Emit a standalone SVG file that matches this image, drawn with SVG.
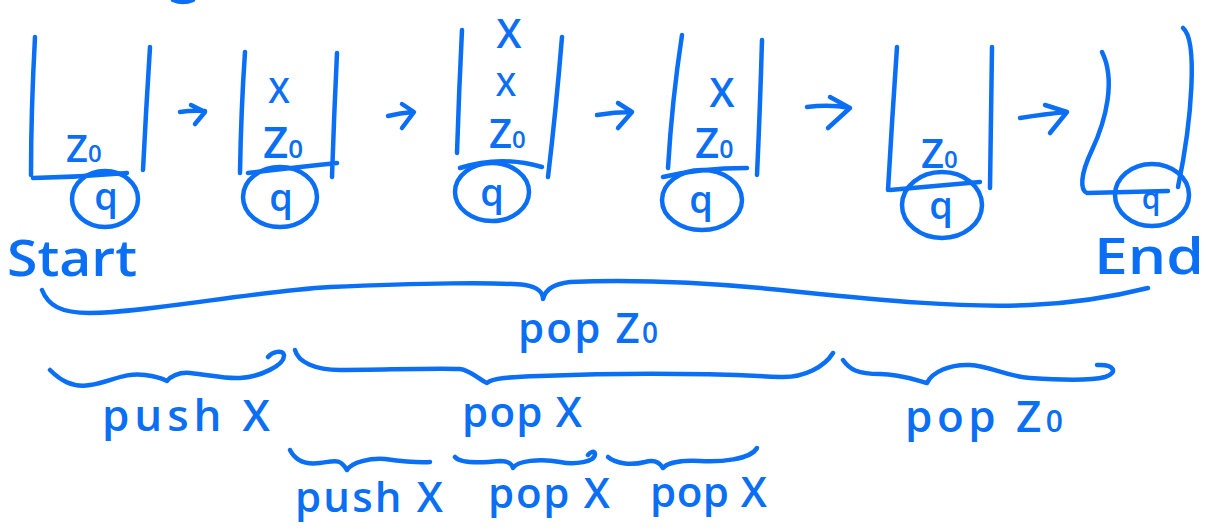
<svg xmlns="http://www.w3.org/2000/svg" width="1207" height="531" viewBox="0 0 1207 531">
<style>
.s{fill:none;stroke:#0b6ff5;stroke-width:4.5;stroke-linecap:round;stroke-linejoin:round}
.t{fill:#0b6ff5;font-family:"Open Sans","Noto Sans",sans-serif;font-weight:600}
.c{text-anchor:middle}
</style>
<rect width="1207" height="531" fill="#fff"/>
<path class="s" d="M173,0 Q183,4 193,0"/>
<g id="stack1">
<path class="s" d="M35,37 Q31,110 31,175 M33,178 Q80,177 127,173 M150,47 Q146,110 143,170"/>
<text class="t" x="66" y="162" font-size="38">Z<tspan font-size="24">0</tspan></text>
<ellipse class="s" cx="105" cy="199" rx="33" ry="28"/>
<text class="t c" x="106" y="210" font-size="38">q</text>
<text class="t" x="7" y="276" font-size="50" textLength="130" lengthAdjust="spacingAndGlyphs">Start</text>
</g>
<g id="stack2">
<path class="s" d="M245,52 Q241,110 240,173 M337,53 Q334,115 332,177 M248,173 Q290,168 337,163"/>
<text class="t c" x="279" y="103" font-size="34">X</text>
<text class="t" x="263" y="158" font-size="44">Z<tspan font-size="26">0</tspan></text>
<ellipse class="s" cx="280" cy="197" rx="37" ry="30"/>
<text class="t c" x="281" y="211" font-size="38">q</text>
</g>
<g id="stack3">
<path class="s" d="M462,30 Q459,90 457,153 M562,37 Q556,110 548,177 M460,168 Q500,155 542,167"/>
<text class="t c" x="509" y="48" font-size="40">X</text>
<text class="t c" x="506" y="96" font-size="32">X</text>
<text class="t" x="489" y="148" font-size="40">Z<tspan font-size="24">0</tspan></text>
<ellipse class="s" cx="492" cy="192" rx="37" ry="29"/>
<text class="t c" x="492" y="206" font-size="38">q</text>
</g>
<g id="stack4">
<path class="s" d="M682,35 Q672,100 668,168 M762,40 Q760,110 757,175 M663,177 Q700,168 747,168"/>
<text class="t c" x="722" y="107" font-size="40">X</text>
<text class="t" x="695" y="158" font-size="42">Z<tspan font-size="25">0</tspan></text>
<ellipse class="s" cx="702" cy="200" rx="40" ry="30"/>
<text class="t c" x="701" y="213" font-size="38">q</text>
</g>
<g id="stack5">
<path class="s" d="M897,47 Q892,120 888,190 M992,47 Q991,120 990,188 M890,190 Q935,186 980,182"/>
<text class="t" x="921" y="168" font-size="40">Z<tspan font-size="24">0</tspan></text>
<ellipse class="s" cx="942" cy="205" rx="40" ry="33"/>
<text class="t c" x="941" y="219" font-size="38">q</text>
</g>
<g id="stack6">
<path class="s" d="M1102,52 C1116,80 1106,120 1092,150 C1080,175 1080,190 1087,193 L1168,191 M1183,28 C1198,40 1192,120 1178,187"/>
<ellipse class="s" cx="1152" cy="195" rx="37" ry="31"/>
<text class="t c" x="1151" y="209" font-size="30">q</text>
<text class="t" x="1094" y="274" font-size="50" textLength="110" lengthAdjust="spacingAndGlyphs">End</text>
</g>
<g id="connectors">
<path class="s" d="M180,112 Q192,110 205,111 M191,105 L205,112 L195,124"/>
<path class="s" d="M388,116 Q400,113 413,112 M402,104 L414,112 L402,128"/>
<path class="s" d="M597,115 Q614,112 632,112 M618,103 L632,112 L618,128"/>
<path class="s" d="M807,107 Q830,104 850,108 M830,97 L850,108 L828,128"/>
<path class="s" d="M1020,118 Q1045,114 1067,112 M1045,105 L1067,112 L1050,133"/>
</g>
<g id="braces">
<path class="s" d="M42,290 C48,305 60,313 90,313 C150,312 250,292 330,287 C420,283 500,282 525,285 C538,287 543,293 543,299 C545,290 552,284 570,282 C620,280 700,281 800,292 C880,300 960,308 1030,305 C1080,303 1120,295 1148,288"/>
<path class="s" d="M50,370 C60,380 72,388 90,385 C110,382 125,372 145,375 C160,377 165,380 167,381 C170,377 178,372 190,373 C210,375 225,379 240,378 C260,377 285,365 284,355 C283,349 272,352 268,357"/>
<path class="s" d="M295,350 C298,362 315,370 340,370 C380,370 430,368 460,369 C470,370 480,380 487,383 C492,378 510,377 540,376 C620,373 700,373 780,377 C805,378 825,366 833,353"/>
<path class="s" d="M843,360 C850,370 858,374 880,374 C900,374 915,380 927,383 C932,372 950,364 970,365 C990,366 1005,376 1030,378 C1060,380 1090,381 1105,377 C1118,373 1115,364 1097,365"/>
<path class="s" d="M290,450 C295,460 305,465 320,463 C335,461 340,458 347,470 C352,462 370,458 385,459 C400,461 415,463 430,462"/>
<path class="s" d="M455,457 C460,463 480,463 500,461 C508,461 512,464 513,468 C517,461 540,458 560,462 C575,465 595,462 595,454 C595,450 590,452 588,455"/>
<path class="s" d="M608,457 C615,463 630,466 645,462 C655,459 660,463 663,468 C667,463 680,460 700,461 C720,462 750,460 757,448"/>
</g>
<g id="labels">
<text class="t" x="518" y="343" font-size="42" textLength="140" lengthAdjust="spacing">pop Z<tspan font-size="28">0</tspan></text>
<text class="t" x="102" y="431" font-size="44" textLength="168" lengthAdjust="spacing">push X</text>
<text class="t" x="462" y="427" font-size="42" textLength="120" lengthAdjust="spacing">pop X</text>
<text class="t" x="905" y="432" font-size="44" textLength="158" lengthAdjust="spacing">pop Z<tspan font-size="30">0</tspan></text>
<text class="t" x="295" y="512" font-size="42" textLength="148" lengthAdjust="spacing">push X</text>
<text class="t" x="488" y="508" font-size="42" textLength="122" lengthAdjust="spacing">pop X</text>
<text class="t" x="650" y="507" font-size="42" textLength="117" lengthAdjust="spacing">pop X</text>
</g>
</svg>
